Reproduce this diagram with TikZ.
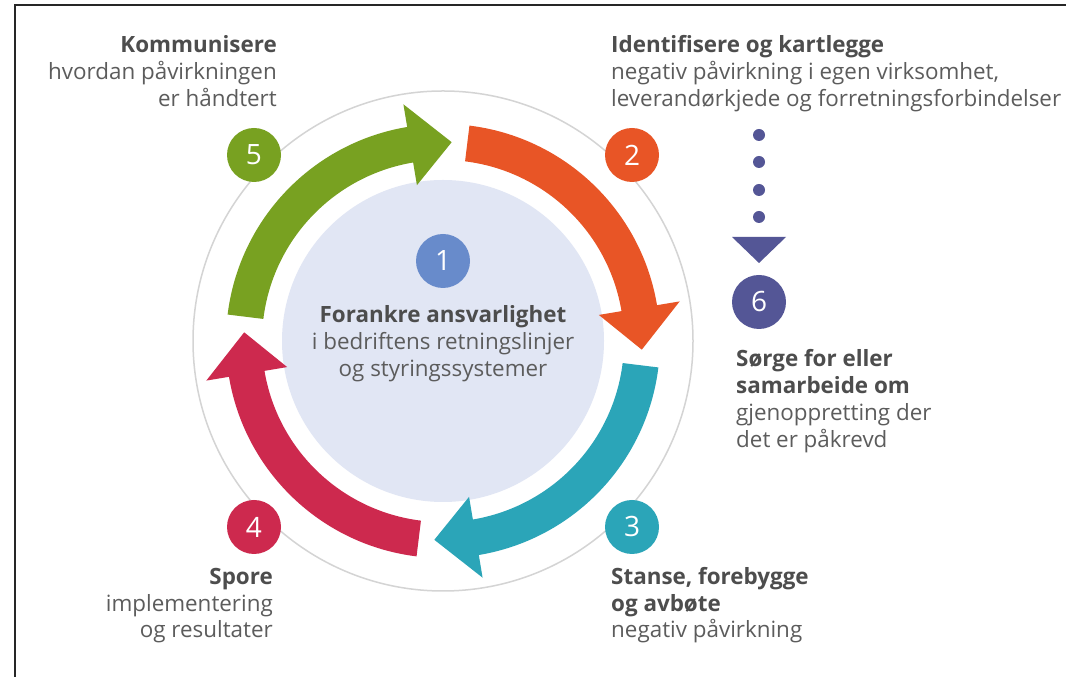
\documentclass[tikz,border=0pt]{standalone}
\usepackage{fontspec}
\setmainfont{Open Sans}
\definecolor{cgreen}{RGB}{120,161,33}
\definecolor{corange}{RGB}{232,85,38}
\definecolor{cteal}{RGB}{43,165,184}
\definecolor{cred}{RGB}{205,41,78}
\definecolor{cblue}{RGB}{104,139,203}
\definecolor{cnavy}{RGB}{84,86,150}
\definecolor{clight}{RGB}{225,230,244}
\definecolor{cring}{RGB}{212,212,212}
\definecolor{tbold}{RGB}{77,77,77}
\definecolor{treg}{RGB}{92,92,92}
\newcommand{\cyclearrow}[2]{%
  \pgfmathsetmacro{\tipA}{#2-85.5}%
  \pgfmathsetmacro{\baseA}{\tipA+12}%
  \fill[#1] (#2:217) arc[start angle=#2,end angle=\baseA,radius=217]
    -- (\baseA:240) -- (\tipA:199) -- (\baseA:158) -- (\baseA:181)
    arc[start angle=\baseA,end angle=#2,radius=181] -- cycle;}
\tikzset{
  numcirc/.style={circle,inner sep=0pt,minimum size=54pt,text=white,font=\fontsize{28}{28}\selectfont},
  bl/.style={inner sep=0pt,text=tbold,font=\fontsize{22.4}{27}\selectfont\bfseries},
  rg/.style={inner sep=0pt,text=treg,font=\fontsize{22.4}{27}\selectfont},
}
\begin{document}
\begin{tikzpicture}[x=1pt,y=1pt]
\useasboundingbox (0,0) rectangle (1066,677);
\fill[white] (0,0) rectangle (1066,677);
\draw[line width=2pt,black!85] (15,0) -- (15,672) -- (1066,672);
\coordinate (C) at (443,336);
\draw[cring,line width=1.5pt] (C) circle[radius=250];
\fill[clight] (C) circle[radius=161];
\begin{scope}[shift={(443,336)}]
  \cyclearrow{cgreen}{173}
  \cyclearrow{corange}{83}
  \cyclearrow{cteal}{-7}
  \cyclearrow{cred}{-97}
\end{scope}
% number circles
\node[numcirc,fill=cgreen] (n5) at (254,522) {5};
\node[numcirc,fill=corange] (n2) at (632,522) {2};
\node[numcirc,fill=cteal] (n3) at (632,150) {3};
\node[numcirc,fill=cred] (n4) at (254,150) {4};
\node[numcirc,fill=cblue] (n1) at (443,416) {1};
\node[numcirc,fill=cnavy] (n6) at (759,375) {6};
% dotted arrow to 6
\foreach \yy in {542,515,487,460} \fill[cnavy] (759,\yy) circle[radius=6];
\fill[cnavy] (732,440) -- (786,440) -- (759,414) -- cycle;
% block 5
\node[bl,anchor=base east] (t5a) at (277,624) {Kommunisere};
\node[rg,anchor=base east] (t5b) at (277,597) {hvordan påvirkningen};
\node[rg,anchor=base east] (t5c) at (277,570) {er håndtert};
% block 2
\node[bl,anchor=base west] (t2a) at (611,624) {Identifisere og kartlegge};
\node[rg,anchor=base west] (t2b) at (611,597) {negativ påvirkning i egen virksomhet,};
\node[rg,anchor=base west] (t2c) at (611,570) {leverandørkjede og forretningsforbindelser};
% block 6
\node[bl,anchor=base west] (t6a) at (736,310) {Sørge for eller};
\node[bl,anchor=base west] (t6b) at (736,283) {samarbeide om};
\node[rg,anchor=base west] (t6c) at (736,256) {gjenoppretting der};
\node[rg,anchor=base west] (t6d) at (736,229) {det er påkrevd};
% block 3
\node[bl,anchor=base west] (t3a) at (611,92) {Stanse, forebygge};
\node[bl,anchor=base west] (t3b) at (611,65) {og avbøte};
\node[rg,anchor=base west] (t3c) at (611,39) {negativ påvirkning};
% block 4
\node[bl,anchor=base east] (t4a) at (273,92) {Spore};
\node[rg,anchor=base east] (t4b) at (273,65) {implementering};
\node[rg,anchor=base east] (t4c) at (273,39) {og resultater};
% centre
\node[bl,anchor=base] (t1a) at (443,354) {Forankre ansvarlighet};
\node[rg,anchor=base] (t1b) at (443,327) {i bedriftens retningslinjer};
\node[rg,anchor=base] (t1c) at (443,300) {og styringssystemer};
\end{tikzpicture}
\end{document}
